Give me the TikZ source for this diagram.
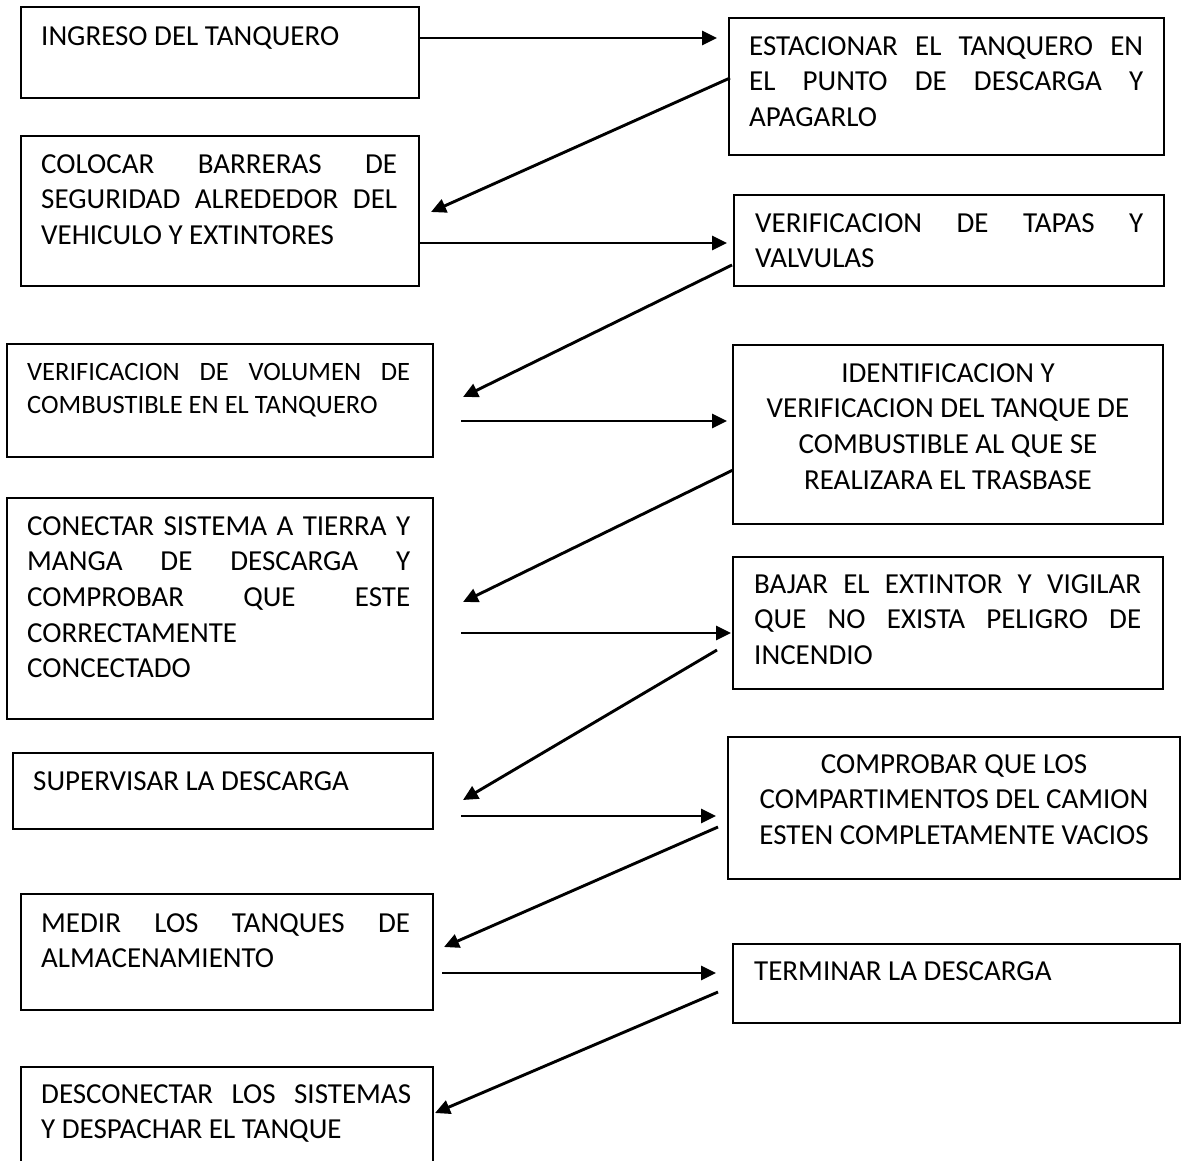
\documentclass[tikz,border=0pt]{standalone}
\usepackage{fontspec}
\setmainfont{Carlito}
\usetikzlibrary{arrows.meta,calc}
% one justified line spread over the full text width
\newcommand\J[1]{\makebox[\linewidth][s]{#1}}
\begin{document}
\begin{tikzpicture}[x=1pt,y=-1pt,
  box/.style={draw, line width=2pt, anchor=north west, inner sep=0pt},
  txt/.style={inner sep=0pt, anchor=base west, font=\fontsize{29}{35.7}\selectfont},
  smalltxt/.style={txt, font=\fontsize{26.5}{33}\selectfont},
  ctxt/.style={txt, anchor=base},
  flow/.style={line width=2.9pt, -{Triangle[length=15pt,width=14pt]}}]
\useasboundingbox (0,0) rectangle (1181,1160);
\clip (0,0) rectangle (1181,1160);

% ---- boxes, left column ----
\node[box, minimum width=398pt, minimum height=91pt]  (b1)  at (20,6) {};
\node[box, minimum width=398pt, minimum height=150pt] (b3)  at (20,135) {};
\node[box, minimum width=426pt, minimum height=113pt] (b5)  at (6,343) {};
\node[box, minimum width=426pt, minimum height=221pt] (b7)  at (6,497) {};
\node[box, minimum width=420pt, minimum height=76pt]  (b9)  at (12,752) {};
\node[box, minimum width=412pt, minimum height=116pt] (b11) at (20,893) {};
\node[box, minimum width=412pt, minimum height=130pt] (b13) at (20,1066) {};

% ---- boxes, right column ----
\node[box, minimum width=435pt, minimum height=137pt] (b2)  at (728,17) {};
\node[box, minimum width=430pt, minimum height=91pt]  (b4)  at (733,194) {};
\node[box, minimum width=430pt, minimum height=179pt] (b6)  at (732,344) {};
\node[box, minimum width=430pt, minimum height=132pt] (b8)  at (732,556) {};
\node[box, minimum width=452pt, minimum height=142pt] (b10) at (727,736) {};
\node[box, minimum width=447pt, minimum height=79pt]  (b12) at (732,943) {};

% ---- texts ----
\node[txt] (t1) at ($(b1.north west)+(21,39)$) {INGRESO DEL TANQUERO};
\node[txt] (t2) at ($(b2.north west)+(21,38)$) {\parbox[t]{394pt}{%
  \J{ESTACIONAR EL TANQUERO EN}\\\J{EL PUNTO DE DESCARGA Y}\\APAGARLO}};
\node[txt] (t3) at ($(b3.north west)+(21,38)$) {\parbox[t]{356pt}{%
  \J{COLOCAR BARRERAS DE}\\\J{SEGURIDAD ALREDEDOR DEL}\\VEHICULO Y EXTINTORES}};
\node[txt] (t4) at ($(b4.north west)+(22,38)$) {\parbox[t]{388pt}{%
  \J{VERIFICACION DE TAPAS Y}\\VALVULAS}};
\node[smalltxt] (t5) at ($(b5.north west)+(21,37)$) {\parbox[t]{383pt}{%
  \J{VERIFICACION DE VOLUMEN DE}\\COMBUSTIBLE EN EL TANQUERO}};
\node[ctxt] (t6) at ($(b6.north)+(0,38)$) {\parbox[t]{430pt}{\centering
  IDENTIFICACION Y\\VERIFICACION DEL TANQUE DE\\COMBUSTIBLE AL QUE SE\\REALIZARA EL TRASBASE}};
\node[txt] (t7) at ($(b7.north west)+(21,38)$) {\parbox[t]{383pt}{%
  \J{CONECTAR SISTEMA A TIERRA Y}\\\J{MANGA DE DESCARGA Y}\\\J{COMPROBAR QUE ESTE}\\CORRECTAMENTE\\CONCECTADO}};
\node[txt] (t8) at ($(b8.north west)+(22,37)$) {\parbox[t]{387pt}{%
  \J{BAJAR EL EXTINTOR Y VIGILAR}\\\J{QUE NO EXISTA PELIGRO DE}\\INCENDIO}};
\node[txt] (t9) at ($(b9.north west)+(21,38)$) {SUPERVISAR LA DESCARGA};
\node[ctxt] (t10) at ($(b10.north)+(0,37)$) {\parbox[t]{452pt}{\centering
  COMPROBAR QUE LOS\\COMPARTIMENTOS DEL CAMION\\ESTEN COMPLETAMENTE VACIOS}};
\node[txt] (t11) at ($(b11.north west)+(21,39)$) {\parbox[t]{369pt}{%
  \J{MEDIR LOS TANQUES DE}\\ALMACENAMIENTO}};
\node[txt] (t12) at ($(b12.north west)+(22,37)$) {TERMINAR LA DESCARGA};
\node[txt] (t13) at ($(b13.north west)+(21,37)$) {\parbox[t]{370pt}{%
  \J{DESCONECTAR LOS SISTEMAS}\\Y DESPACHAR EL TANQUE}};

% ---- connectors ----
\draw[flow] ($(b1.north east)+(0,32)$)   -- ($(b2.north west)+(-11,21)$);
\draw[flow] ($(b2.north west)+(2,61)$)   -- ($(b3.north east)+(11,77)$);
\draw[flow] ($(b3.north east)+(0,108)$)  -- ($(b4.north west)+(-6,49)$);
\draw[flow] ($(b4.north west)+(-1,71)$)  -- ($(b5.north east)+(29,54)$);
\draw[flow] ($(b5.north east)+(27,78)$)  -- ($(b6.north west)+(-5,77)$);
\draw[flow] ($(b6.north west)+(1,126)$)  -- ($(b7.north east)+(29,105)$);
\draw[flow] ($(b7.north east)+(27,136)$) -- ($(b8.north west)+(-1,77)$);
\draw[flow] ($(b8.north west)+(-15,94)$) -- ($(b9.north east)+(29,48)$);
\draw[flow] ($(b9.north east)+(27,64)$)  -- ($(b10.north west)+(-11,80)$);
\draw[flow] ($(b10.north west)+(-9,91)$) -- ($(b11.north east)+(10,54)$);
\draw[flow] ($(b11.north east)+(8,80)$)  -- ($(b12.north west)+(-16,30)$);
\draw[flow] ($(b12.north west)+(-14,49)$) -- ($(b13.north east)+(1,47)$);
\end{tikzpicture}
\end{document}
